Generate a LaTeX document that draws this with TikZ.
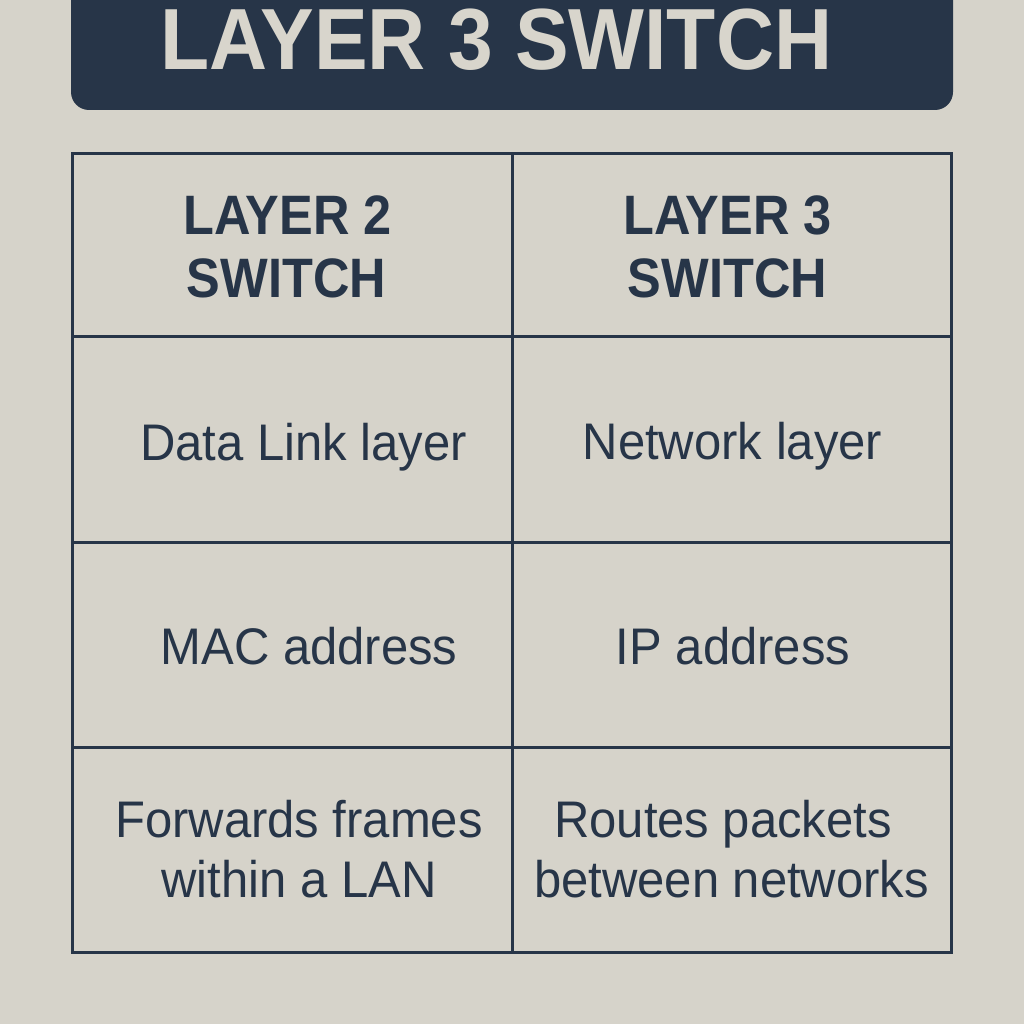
\documentclass[tikz,border=0pt]{standalone}
\usepackage{fontspec}
\setmainfont{Liberation Sans}
\definecolor{bgc}{RGB}{214,211,202}
\definecolor{navy}{RGB}{39,53,72}
\definecolor{titletxt}{RGB}{216,213,204}
\tikzset{
  bodytxt/.style={anchor=base, inner sep=0pt, text=navy, font=\fontsize{49}{49}\selectfont},
  headtxt/.style={anchor=base, inner sep=0pt, text=navy, font=\fontsize{50.5}{50.5}\selectfont\bfseries},
  gridline/.style={draw=navy, line width=3pt},
}
\newcommand{\ys}[2]{\scalebox{1}[#1]{#2}}
\begin{document}
\begin{tikzpicture}[x=1pt,y=-1pt]
\useasboundingbox (0,0) rectangle (1024,1024);
\clip (0,0) rectangle (1024,1024);
\fill[bgc] (0,0) rectangle (1024,1024);
% banner
\fill[navy, rounded corners=18pt] (71,-40) rectangle (953,110);
\node[anchor=base, inner sep=0pt, text=titletxt, font=\fontsize{80.4}{80.4}\selectfont\bfseries] (title) at (496.5,70) {\ys{1.08}{LAYER 3 SWITCH}};
% table
\draw[gridline] (72.5,154) rectangle (951.5,952);
\draw[gridline] (512,154) -- (512,952);
\draw[gridline] (72.5,336) -- (951.5,336);
\draw[gridline] (72.5,542) -- (951.5,542);
\draw[gridline] (72.5,747) -- (951.5,747);
% headers
\node[headtxt] (h1a) at (287.5,235) {\ys{1.1}{LAYER 2}};
\node[headtxt] (h1b) at (286.5,297) {\ys{1.1}{SWITCH}};
\node[headtxt] (h2a) at (727.5,235) {\ys{1.1}{LAYER 3}};
\node[headtxt] (h2b) at (727.5,297) {\ys{1.1}{SWITCH}};
% body
\node[bodytxt] (r1a) at (303.5,460) {\ys{1.05}{Data Link layer}};
\node[bodytxt] (r1b) at (732.5,459) {\ys{1.05}{Network layer}};
\node[bodytxt] (r2a) at (309,664) {\ys{1.05}{MAC address}};
\node[bodytxt] (r2b) at (733,664) {\ys{1.05}{IP address}};
\node[bodytxt] (r3a1) at (299,837) {\ys{1.05}{Forwards frames}};
\node[bodytxt] (r3a2) at (299,897) {\ys{1.05}{within a LAN}};
\node[bodytxt] (r3b1) at (723,837) {\ys{1.05}{Routes packets}};
\node[bodytxt] (r3b2) at (731.5,897) {\ys{1.05}{between networks}};
\end{tikzpicture}
\end{document}
